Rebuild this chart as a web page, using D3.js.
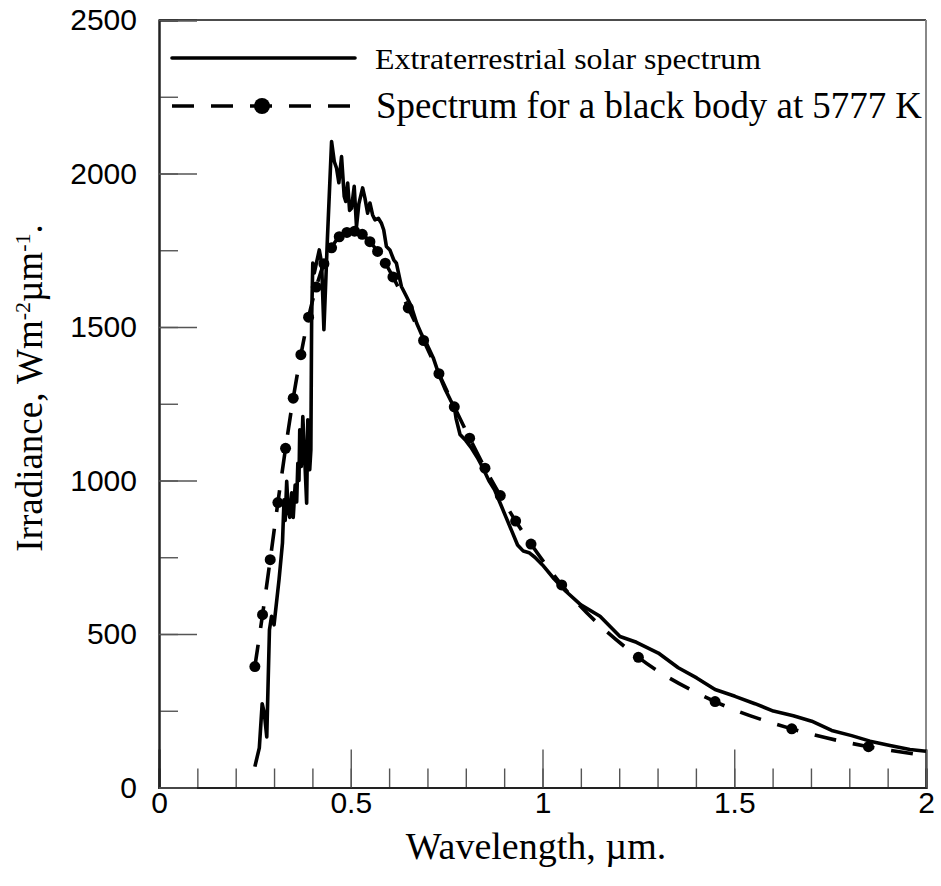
<!DOCTYPE html>
<html>
<head>
<meta charset="utf-8">
<script src="https://cdn.jsdelivr.net/npm/d3@7/dist/d3.min.js"></script>
<style>
  body { margin: 0; background: #fff; }
  svg { display: block; }
</style>
</head>
<body>
<svg id="chart" width="941" height="886"></svg>
<script>
// Extraterrestrial solar spectrum (wavelength in µm, irradiance in W m^-2 µm^-1)
const solarWave = [
  0.250, 0.2616, 0.269, 0.2745, 0.281, 0.288, 0.2935, 0.300, 0.313, 0.322,
  0.326, 0.329, 0.333, 0.337, 0.341, 0.346, 0.350, 0.355, 0.359, 0.362,
  0.365, 0.367, 0.371, 0.375, 0.379, 0.385, 0.388, 0.393, 0.396, 0.398,
  0.401, 0.405, 0.409, 0.418, 0.424, 0.430, 0.439, 0.450, 0.457, 0.463,
  0.469, 0.476, 0.483, 0.487, 0.492, 0.497, 0.502, 0.509, 0.515, 0.521,
  0.531, 0.537, 0.544, 0.550, 0.557, 0.563, 0.572, 0.580, 0.586, 0.593,
  0.602, 0.612, 0.619, 0.632, 0.645, 0.658, 0.672, 0.685, 0.700, 0.715,
  0.730, 0.745, 0.760, 0.770, 0.775, 0.785, 0.800, 0.815, 0.830, 0.845,
  0.860, 0.875, 0.890, 0.905, 0.920, 0.935, 0.950, 0.965, 0.980, 1.000,
  1.030, 1.060, 1.100, 1.150, 1.202, 1.245, 1.302, 1.354, 1.402, 1.450,
  1.502, 1.554, 1.602, 1.654, 1.702, 1.754, 1.806, 1.854, 1.906, 1.958,
  2.000
];
const solarIrr = [
  68, 129, 273, 243, 165, 514, 558, 530, 677, 797,
  937, 870, 997, 900, 880, 960, 880, 985, 930, 1056,
  1000, 1165, 1046, 1208, 1100, 926, 1198, 1035, 1100, 1523,
  1708, 1676, 1700, 1751, 1708, 1491, 1784, 2104, 2039, 2017,
  1970, 2055, 1925, 1909, 1969, 1880, 1887, 1958, 1827, 1900,
  1953, 1920, 1871, 1904, 1865, 1849, 1854, 1838, 1816, 1762,
  1751, 1719, 1708, 1632, 1600, 1567, 1512, 1475, 1440, 1400,
  1345, 1300, 1262, 1240, 1200, 1150, 1130, 1105, 1075, 1040,
  1000, 970, 925, 880, 835, 790, 770, 765, 750, 725,
  680, 640, 595, 558, 492, 473, 438, 390, 357, 319,
  297, 273, 249, 234, 216, 186, 169, 151, 137, 124,
  118
];

// Black body at 5777 K, scaled to the Earth's mean distance
const bbWave = [
  0.25, 0.27, 0.29, 0.31, 0.33, 0.35, 0.37, 0.39, 0.41, 0.43,
  0.45, 0.47, 0.49, 0.51, 0.53, 0.55, 0.57, 0.59, 0.61, 0.65,
  0.69, 0.73, 0.77, 0.81, 0.85, 0.89, 0.93, 0.97, 1.05, 1.25,
  1.45, 1.65, 1.85, 2.00
];
const bbIrr = [
  394, 563, 742, 928, 1105, 1268, 1410, 1532, 1630, 1706,
  1758, 1794, 1808, 1812, 1802, 1778, 1746, 1708, 1663, 1562,
  1456, 1348, 1240, 1138, 1040, 951, 868, 793, 660, 424,
  280, 191, 133, 104
];
// points of the black-body curve that carry a dot (the last point ends the line only)
const bbDotted = bbWave.slice(0, bbWave.length - 1);

// axis ticks and labels
const xMinor = d3.range(0, 21).map(i => i / 10);
const xMajor = [0, 0.5, 1, 1.5, 2];
const xLabels = ["0", "0.5", "1", "1.5", "2"];
const yMinor = d3.range(0, 11).map(i => i * 250);
const yMajor = [0, 500, 1000, 1500, 2000, 2500];
const yLabels = ["0", "500", "1000", "1500", "2000", "2500"];

const legendNames = ["Extraterrestrial solar spectrum", "Spectrum for a black body at 5777 K"];

const svg = d3.select("#chart");
const plotL = 159, plotR = 926, plotT = 20, plotB = 787.5;

const x = d3.scaleLinear().domain([0, 2]).range([plotL, plotR]);
const y = d3.scaleLinear().domain([0, 2500]).range([plotB, plotT]);

const sans = "'Liberation Sans', Arial, Helvetica, sans-serif";
const serif = "'Liberation Serif', 'Times New Roman', Times, serif";

// frame: top and right edges
svg.append("line").attr("x1", plotL).attr("x2", plotR).attr("y1", plotT).attr("y2", plotT)
  .attr("stroke", "#111").attr("stroke-width", 1.6);
svg.append("line").attr("x1", plotR).attr("x2", plotR).attr("y1", plotT).attr("y2", plotB)
  .attr("stroke", "#888").attr("stroke-width", 2);

// x axis: minor ticks, then major ticks with labels
const gxMinor = svg.append("g").attr("transform", `translate(0,${plotB})`)
  .call(d3.axisBottom(x).tickValues(xMinor).tickSize(-19).tickFormat(""));
const gx = svg.append("g").attr("transform", `translate(0,${plotB})`)
  .call(d3.axisBottom(x).tickValues(xMajor).tickSize(-38).tickPadding(4)
    .tickFormat((d, i) => xLabels[i]));

// y axis: minor ticks, then major ticks with labels
const gyMinor = svg.append("g").attr("transform", `translate(${plotL},0)`)
  .call(d3.axisLeft(y).tickValues(yMinor).tickSize(-19).tickFormat(""));
const gy = svg.append("g").attr("transform", `translate(${plotL},0)`)
  .call(d3.axisLeft(y).tickValues(yMajor).tickSize(-38).tickPadding(22)
    .tickFormat((d, i) => yLabels[i]));

[gxMinor, gx, gyMinor, gy].forEach(g => {
  g.select(".domain").attr("stroke", "#222").attr("stroke-width", 2);
  g.selectAll(".tick line").attr("stroke", "#555").attr("stroke-width", 1.4);
  g.selectAll(".tick text").attr("fill", "#000")
    .style("font-family", sans).style("font-size", "30px");
});
gx.selectAll(".tick text").attr("dy", "0.71em");

// axis titles
svg.append("text")
  .attr("x", 536).attr("y", 859)
  .attr("text-anchor", "middle")
  .style("font-family", serif).style("font-size", "38px")
  .text("Wavelength, µm.");

const yTitle = svg.append("text")
  .attr("transform", "translate(42,388) rotate(-90)")
  .attr("text-anchor", "middle")
  .style("font-family", serif).style("font-size", "37px");
yTitle.append("tspan").text("Irradiance, Wm");
yTitle.append("tspan").attr("baseline-shift", "super").style("font-size", "22px").text("-2");
yTitle.append("tspan").text("µm");
yTitle.append("tspan").attr("baseline-shift", "super").style("font-size", "22px").text("-1");
yTitle.append("tspan").text(".");

// series
const solarData = solarWave.map((w, i) => ({ w, v: solarIrr[i] }));
const bbData = bbWave.map((w, i) => ({ w, v: bbIrr[i] }));

svg.append("path")
  .datum(bbData)
  .attr("fill", "none")
  .attr("stroke", "#000")
  .attr("stroke-width", 3.6)
  .attr("stroke-dasharray", "22,17")
  .attr("d", d3.line().x(d => x(d.w)).y(d => y(d.v)).curve(d3.curveMonotoneX));

svg.append("g").selectAll("circle")
  .data(bbData.filter(d => bbDotted.includes(d.w)))
  .join("circle")
  .attr("cx", d => x(d.w)).attr("cy", d => y(d.v))
  .attr("r", 5.5).attr("fill", "#000");

svg.append("path")
  .datum(solarData)
  .attr("fill", "none")
  .attr("stroke", "#000")
  .attr("stroke-width", 3.6)
  .attr("stroke-linejoin", "round")
  .attr("d", d3.line().x(d => x(d.w)).y(d => y(d.v)));

// legend
const lg = svg.append("g");
lg.append("line").attr("x1", 172).attr("x2", 355).attr("y1", 58).attr("y2", 58)
  .attr("stroke", "#000").attr("stroke-width", 3.6).attr("stroke-linecap", "round");
lg.append("line").attr("x1", 172).attr("x2", 355).attr("y1", 106).attr("y2", 106)
  .attr("stroke", "#000").attr("stroke-width", 3.6).attr("stroke-dasharray", "22,17");
lg.append("circle").attr("cx", 262).attr("cy", 106).attr("r", 8).attr("fill", "#000");
lg.append("text").attr("x", 375).attr("y", 69)
  .attr("textLength", 386).attr("lengthAdjust", "spacingAndGlyphs")
  .style("font-family", serif).style("font-size", "30px").text(legendNames[0]);
lg.append("text").attr("x", 376).attr("y", 118)
  .attr("textLength", 546).attr("lengthAdjust", "spacingAndGlyphs")
  .style("font-family", serif).style("font-size", "38px").text(legendNames[1]);
</script>
</body>
</html>
